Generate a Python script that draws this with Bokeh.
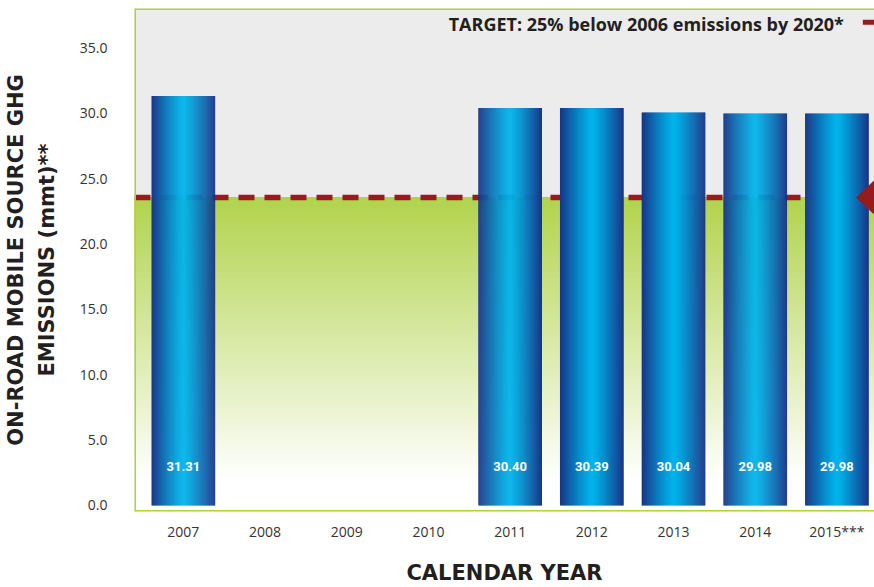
import numpy as np
from bokeh.plotting import figure
from bokeh.models import ColumnDataSource, Span, Label, FixedTicker, NumeralTickFormatter
from bokeh.embed import file_html
from bokeh.resources import INLINE
from bokeh.core.properties import value

# ---- data ----
years = ["2007", "2008", "2009", "2010", "2011", "2012", "2013", "2014", "2015***"]
emissions = [31.31, None, None, None, 30.40, 30.39, 30.04, 29.98, 29.98]
target = 23.55
target_text = "TARGET: 25% below 2006 emissions by 2020*"
y_ticks = [0, 5, 10, 15, 20, 25, 30, 35]

# ---- layout ----
x_start, x_end = -0.598, 8.46
y_start, y_end = -0.46, 38.0
GREEN_BORDER = "#B2D235"
RED = "#961B1E"
TXT = "#231F20"

p = figure(width=874, height=587,
           x_range=(x_start, x_end), y_range=(y_start, y_end),
           output_backend="svg", toolbar_location=None,
           min_border_left=131, min_border_right=0, min_border_top=8, min_border_bottom=74)
p.background_fill_color = "#ECECEC"
p.border_fill_color = "white"
p.outline_line_color = None
p.xgrid.grid_line_color = None
p.ygrid.grid_line_color = None

# ---- green gradient below target ----
n = 100
edges = np.linspace(target, y_start, n + 1)
mids = (edges[:-1] + edges[1:]) / 2
fade_end = 1.8
t = np.clip((target - mids) / (target - fade_end), 0, 1)
g0 = np.array([177, 211, 75])
w = np.array([255, 255, 255])
cols = ["#%02x%02x%02x" % tuple(int(round(c)) for c in (g0 + (w - g0) * tt)) for tt in t]
p.quad(left=x_start, right=x_end + 0.5, top=edges[:-1], bottom=edges[1:],
       fill_color=cols, line_color=cols, line_width=1)

# ---- target dashed line ----
p.line(x=[x_start, x_end + 0.5], y=[target, target], line_color=RED,
       line_width=5.5, line_dash="16 10")

# ---- bars with horizontal gradient ----
bw = 0.78
ns = 64
edge_c = np.array([24, 52, 134])
center_c = np.array([0, 180, 236])
ql, qr, qt, qc = [], [], [], []
for i, v in enumerate(emissions):
    if v is None:
        continue
    e = np.linspace(-bw / 2, bw / 2, ns + 1)
    for k in range(ns):
        m = (e[k] + e[k + 1]) / 2
        tt = min(abs(m) / (bw / 2), 1) ** 1.2
        c = center_c + (edge_c - center_c) * tt
        ql.append(i + e[k])
        qr.append(i + (e[k + 1] + 0.006 if k < ns - 1 else e[k + 1]))
        qt.append(v)
        qc.append("#%02x%02x%02x" % tuple(int(round(x)) for x in c))
src = ColumnDataSource(dict(left=ql, right=qr, top=qt, color=qc))
p.quad(left="left", right="right", top="top", bottom=0, fill_color="color",
       line_color=None, source=src)

# ---- bar value labels ----
lab_x = [i for i, v in enumerate(emissions) if v is not None]
lab_t = ["%.2f" % v for v in emissions if v is not None]
p.text(x=lab_x, y=[3.0] * len(lab_x), text=lab_t, text_color="white",
       text_font=value("Roboto"), text_font_style="bold", text_font_size="13px",
       text_align="center", text_baseline="middle")

# ---- target annotation (text, legend dash, arrow) ----
p.add_layout(Label(x=x_end - 0.375, y=36.8, text=target_text, text_align="right",
                   text_baseline="middle", text_font="Open Sans", text_font_style="bold",
                   text_font_size="18px", text_color=TXT))
p.segment(x0=[x_end - 0.143], x1=[x_end + 0.3], y0=[36.95], y1=[36.95],
          line_color=RED, line_width=5)
tip = x_end - 0.22
far = x_end + 0.3
hh = (far - tip) * 82 * (17 / 18) / 13.1
p.patch(x=[tip, far, far], y=[target, target + hh, target - hh], fill_color=RED,
        line_color=RED)

# ---- frame borders (left, top, bottom) ----
for loc, dim in [(x_start, "height"), (y_end, "width"), (y_start, "width")]:
    p.add_layout(Span(location=loc, dimension=dim, line_color=GREEN_BORDER, line_width=3))

# ---- axes ----
for ax in (p.xaxis[0], p.yaxis[0]):
    ax.axis_line_color = None
    ax.major_tick_line_color = None
    ax.minor_tick_line_color = None
    ax.major_tick_out = 0
    ax.major_tick_in = 0
    ax.major_label_text_font = "Open Sans"
    ax.major_label_text_font_size = "14px"
    ax.major_label_text_color = "#333333"
    ax.axis_label_text_font = "DejaVu Sans"
    ax.axis_label_text_font_style = "bold"
    ax.axis_label_text_font_size = "21px"
    ax.axis_label_text_color = TXT

p.yaxis.ticker = FixedTicker(ticks=y_ticks)
p.yaxis.formatter = NumeralTickFormatter(format="0.0")
p.yaxis.major_label_standoff = 27
p.yaxis.axis_label = "ON-ROAD MOBILE SOURCE GHG\nEMISSIONS (mmt)**"
p.yaxis.axis_label_standoff = 18
p.yaxis.axis_label_text_line_height = 1.3

p.xaxis.ticker = FixedTicker(ticks=list(range(len(years))))
p.xaxis.major_label_overrides = {i: y for i, y in enumerate(years)}
p.xaxis.major_label_standoff = 10
p.xaxis.axis_label = "CALENDAR YEAR"
p.xaxis.axis_label_standoff = 17
p.xaxis.axis_label_text_line_height = 1.0

open("out.html", "w").write(file_html(p, INLINE))
